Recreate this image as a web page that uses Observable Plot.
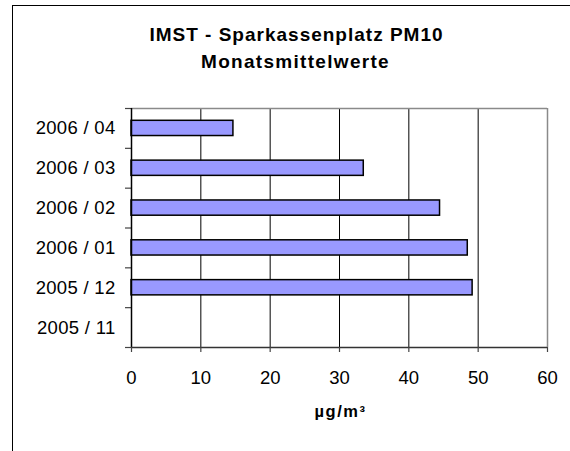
<!DOCTYPE html>
<html>
<head>
<meta charset="utf-8">
<script src="https://cdn.jsdelivr.net/npm/d3@7"></script>
<script src="https://cdn.jsdelivr.net/npm/@observablehq/plot@0.6"></script>
<style>
  html, body { margin: 0; padding: 0; background: #fff; overflow: hidden; width: 570px; height: 451px; }
  #chart { position: absolute; left: 0; top: 0; }
  #box { position: absolute; left: 12px; top: 5px; width: 640px; height: 520px;
         border-left: 1.5px solid #000; border-top: 1.5px solid #000; pointer-events: none; z-index: 2; }
</style>
</head>
<body>
<div id="chart"></div>
<div id="box"></div>
<script>
// Data (bottom-up order, as drawn from the x axis upward)
const months = ["2005 / 11", "2005 / 12", "2006 / 01", "2006 / 02", "2006 / 03", "2006 / 04"];
const values = [null, 49.2, 48.5, 44.5, 33.5, 14.7];
const xTicks = [0, 10, 20, 30, 40, 50, 60];
const titleLines = ["IMST - Sparkassenplatz PM10", "Monatsmittelwerte"];
const unitLabel = "µg/m³";

const data = months.map((m, i) => ({month: m, i, value: values[i]})).filter(d => d.value != null);
const bandIdx = d3.range(months.length + 1);

const font = "'Liberation Sans', Arial, sans-serif";

const chart = Plot.plot({
  width: 570,
  height: 451,
  marginLeft: 131,
  marginRight: 23,
  marginTop: 108,
  marginBottom: 104,
  style: {background: "transparent", fontFamily: font, fontSize: "18px", color: "#000", overflow: "visible"},
  x: {domain: [0, 60]},
  y: {domain: [0, months.length]},
  marks: [
    Plot.gridX(xTicks.slice(1, -1), {stroke: "#000", strokeOpacity: 1, strokeWidth: 1}),
    Plot.ruleX([60], {stroke: "#8a8a8a", strokeWidth: 1.5}),
    Plot.ruleY([months.length], {stroke: "#8a8a8a", strokeWidth: 1.5}),
    Plot.rectX(data, {
      x1: 0, x2: "value", y1: "i", y2: d => d.i + 1,
      insetTop: 12.3, insetBottom: 12.3,
      fill: "#9999ff", stroke: "#000", strokeWidth: 1.5
    }),
    Plot.axisY({ticks: bandIdx, tickSize: 6, tickFormat: () => "", stroke: "#444", strokeWidth: 1.2, label: null}),
    Plot.axisY({
      ticks: months.map((m, i) => i + 0.5),
      tickFormat: d => months[Math.floor(d)],
      tickSize: 0, tickPadding: 16, fontSize: 18.5, label: null
    }),
    Plot.ruleX([0], {stroke: "#000", strokeWidth: 1.5}),
    Plot.ruleY([0], {stroke: "#333", strokeWidth: 1.5}),
    Plot.axisX({ticks: xTicks, tickSize: 5, tickPadding: 18, fontSize: 18.5, label: null, stroke: "#444", strokeWidth: 1.2}),
    Plot.text([titleLines[0]], {
      frameAnchor: "top", dx: -43, dy: -68, lineAnchor: "bottom",
      fontSize: 19, fontWeight: "bold", fill: "#000"
    }),
    Plot.text([titleLines[1]], {
      frameAnchor: "top", dx: -44, dy: -41, lineAnchor: "bottom",
      fontSize: 19, fontWeight: "bold", fill: "#000"
    }),
    Plot.text([unitLabel], {
      frameAnchor: "bottom", dx: 1, dy: 69, lineAnchor: "bottom",
      fontSize: 16.5, fontWeight: "bold", fill: "#000"
    })
  ]
});
document.getElementById("chart").appendChild(chart);
// letter spacing to imitate the wide glyph spacing of the original rendering
const sel = d3.select(chart).selectAll("text");
sel.filter(function() { return this.textContent === titleLines[0]; }).style("letter-spacing", "1px");
sel.filter(function() { return this.textContent === titleLines[1]; }).style("letter-spacing", "1.3px");
sel.filter(function() { return this.textContent === unitLabel; }).style("letter-spacing", "1.5px");
sel.filter(function() { return months.includes(this.textContent); }).style("letter-spacing", "0.3px");
</script>
</body>
</html>
